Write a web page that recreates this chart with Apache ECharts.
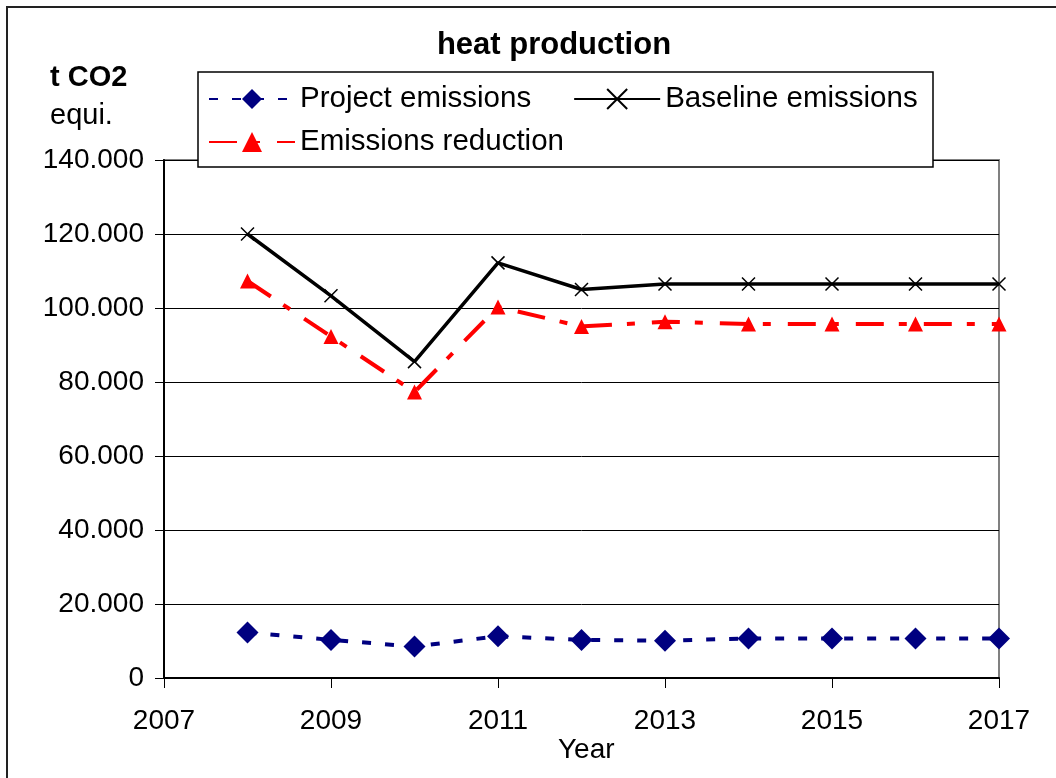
<!DOCTYPE html>
<html>
<head>
<meta charset="utf-8">
<script src="https://cdn.jsdelivr.net/npm/echarts@6/dist/echarts.min.js"></script>
<style>
  html, body { margin: 0; padding: 0; background: #fff; }
  #chart { width: 1056px; height: 778px; }
</style>
</head>
<body>
<div id="chart"></div>
<script>
// years on the x axis
var years = [2008, 2009, 2010, 2011, 2012, 2013, 2014, 2015, 2016, 2017];
// t CO2 equi.
var projectEmissions = [12300, 10300, 8500, 11300, 10300, 10100, 10700, 10700, 10700, 10700];
var baselineEmissions = [120000, 103300, 85500, 112200, 105000, 106500, 106500, 106500, 106500, 106500];
var emissionsReduction = [107300, 92300, 77300, 100300, 95000, 96300, 95700, 95700, 95700, 95700];
var seriesNames = ['Project emissions', 'Baseline emissions', 'Emissions reduction'];

var font = '"Liberation Sans", Arial, sans-serif';

function pairs(vals) {
    return years.map(function (y, i) { return [y, vals[i]]; });
}

var chart = echarts.init(document.getElementById('chart'));

var option = {
    backgroundColor: '#fff',
    animation: false,
    title: {
        text: 'heat production',
        left: 549,
        top: 25,
        textAlign: 'center',
        textStyle: { fontFamily: font, fontSize: 31, fontWeight: 'bold', color: '#000' }
    },
    legend: [
        {
            data: [seriesNames[0], seriesNames[1]],
            left: 203,
            top: 79,
            itemWidth: 86,
            itemHeight: 25,
            itemGap: 42,
            z: 110,
            textStyle: { fontFamily: font, fontSize: 29.5, color: '#000' }
        },
        {
            data: [seriesNames[2]],
            left: 203,
            top: 122,
            itemWidth: 86,
            itemHeight: 25,
            z: 110,
            textStyle: { fontFamily: font, fontSize: 29.5, color: '#000' }
        }
    ],
    graphic: [
        {
            type: 'rect',
            shape: { x: 7, y: 7, width: 1100, height: 820 },
            style: { fill: 'none', stroke: '#222', lineWidth: 2 },
            z: 1
        },
        {
            type: 'rect',
            shape: { x: 198, y: 72, width: 735, height: 95 },
            style: { fill: '#fff', stroke: '#000', lineWidth: 1.5 },
            z: 100
        },
        {
            type: 'text',
            left: 50,
            top: 63,
            style: { text: 't CO2', fontFamily: font, fontSize: 29, fontWeight: 'bold', fill: '#000' }
        },
        {
            type: 'text',
            left: 50,
            top: 101,
            style: { text: 'equi.', fontFamily: font, fontSize: 29, fill: '#000' }
        },
        {
            type: 'text',
            left: 558,
            top: 736,
            style: { text: 'Year', fontFamily: font, fontSize: 28, fill: '#000' }
        }
    ],
    grid: {
        left: 164,
        right: 57,
        top: 160,
        bottom: 100,
        show: true,
        borderColor: '#808080',
        borderWidth: 2
    },
    xAxis: {
        type: 'value',
        min: 2007,
        max: 2017,
        interval: 2,
        axisLine: { show: true, lineStyle: { color: '#000', width: 2 } },
        axisTick: { show: true, length: 10, inside: false, lineStyle: { color: '#000', width: 1 } },
        splitLine: { show: false },
        axisLabel: {
            margin: 29,
            fontFamily: font,
            fontSize: 28,
            color: '#000',
            formatter: function (v) { return String(v); }
        }
    },
    yAxis: {
        type: 'value',
        min: 0,
        max: 140000,
        interval: 20000,
        axisLine: { show: true, lineStyle: { color: '#000', width: 2 } },
        axisTick: { show: true, length: 9, lineStyle: { color: '#000', width: 1 } },
        splitLine: { show: true, lineStyle: { color: '#000', width: 1 } },
        axisLabel: {
            margin: 20,
            fontFamily: font,
            fontSize: 28,
            color: '#000',
            formatter: function (v) { return v === 0 ? '0' : (v / 1000) + '.000'; }
        }
    },
    series: [
        {
            name: seriesNames[0],
            type: 'line',
            data: pairs(projectEmissions),
            symbol: 'diamond',
            symbolSize: [22, 22],
            z: 3,
            lineStyle: { color: '#000080', width: 4, type: [9, 14] },
            itemStyle: { color: '#000080' }
        },
        {
            name: seriesNames[1],
            type: 'line',
            data: pairs(baselineEmissions),
            symbol: 'path://M0,0L10,10M0,10L10,0',
            symbolSize: 13,
            z: 3,
            lineStyle: { color: '#000', width: 3.5 },
            itemStyle: { color: '#000', borderColor: '#000', borderWidth: 1.5 }
        },
        {
            name: seriesNames[2],
            type: 'line',
            data: pairs(emissionsReduction),
            symbol: 'triangle',
            symbolSize: 15,
            z: 3,
            lineStyle: { color: '#ff0000', width: 4, type: [28, 15, 8, 17] },
            itemStyle: { color: '#ff0000' }
        }
    ]
};

chart.setOption(option);
</script>
</body>
</html>
